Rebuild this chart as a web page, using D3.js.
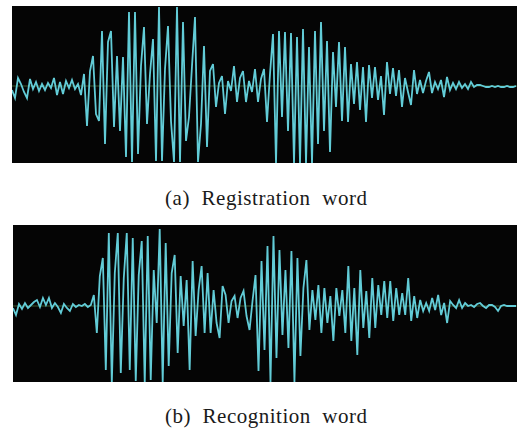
<!DOCTYPE html>
<html>
<head>
<meta charset="utf-8">
<script src="https://cdn.jsdelivr.net/npm/d3@7"></script>
<style>
  html, body { margin: 0; padding: 0; background: #fff; }
  svg { display: block; }
</style>
</head>
<body>
<svg id="chart" width="517" height="429"></svg>
<script>
// Amplitude samples (pixels of deflection, + = up)
const registrationWave = [
  -4, -12, 8, 2, -6, -12, 7, -3, 4, -5, 2, -4, 3, -2, 8, -9, 4, -8, 5, -2,
  6, -3, 2, -9, 12, -40, 15, 30, -28, -35, 55, -58, 44, 55, -41, 30, -45, 29, -71, 74,
  -76, 74, -68, 20, 59, -38, 12, 47, -75, 79, -75, 17, 60, -35, -76, 79, -76, 64, -55, -31,
  20, 69, -76, -38, 40, -61, 15, 22, -21, 3, 10, -28, 5, -5, 20, -16, 8, 15, -16, 5,
  -6, 17, -16, 7, 17, -36, 12, 52, -77, 55, -31, 54, -45, 53, -77, 49, -77, 57, -77, 39,
  -77, 55, -58, 64, -45, 45, -66, 34, -21, 44, -35, 39, -36, 22, -18, 24, -24, 19, -36, 21,
  -12, 19, -14, 10, -29, 24, -8, 18, -10, 16, -21, 8, -6, -19, 16, -8, 6, -7, 5, 14,
  -7, 4, -3, 6, -11, 9, -4, 3, -3, 4, -2, 2, -3, 4, -1, 1, 1, 0, -1, -1,
  0, -1, 0, -1, -1, 0, -1, -1, 0
];

const recognitionWave = [
  -2, -9, 2, -3, 3, -2, 1, 4, 6, -1, 8, 1, 8, -2, 3, -1, -7, 2, -2, -5,
  2, -1, 1, 0, 2, -1, 1, 11, -27, 30, 48, -64, 73, -77, 33, 73, -67, 28, 73, -64,
  68, -75, 31, 65, -77, 70, -74, 36, -17, 77, -77, 63, -60, 33, 51, -47, 30, -20, 26, -64,
  45, -30, 16, 40, -27, 33, -27, 16, -17, -32, 20, 11, -17, 5, 10, -12, 8, 15, -10, -24,
  5, 31, -65, 45, -44, 60, -76, 70, -52, 56, -29, 36, -42, 55, -76, 48, -50, 18, 46, -24,
  16, -14, 21, -27, 18, -17, 10, -35, 18, -10, 16, -27, 40, -35, 18, -49, 36, -22, 15, -32,
  28, -22, 21, -9, 25, -12, 25, -15, 18, -9, 13, -9, 28, -15, 10, -12, 6, -5, 3, -5,
  8, -4, 11, -9, 3, -17, 5, 1, -2, 6, -2, 3, 0, 1, -1, 2, 3, 0, -2, 1,
  1, -1, -5, 0, 1, 0, 0, 0, 0
];

const captions = ['(a)  Registration  word', '(b)  Recognition  word'];

const panels = [
  { data: registrationWave, caption: captions[0], x0: 12, x1: 517, top: 6, bottom: 163, lo: -77, hi: 80, textY: 205 },
  { data: recognitionWave, caption: captions[1], x0: 13, x1: 517, top: 225, bottom: 382, lo: -76, hi: 81, textY: 423 }
];

const svg = d3.select('#chart');

panels.forEach((p, k) => {
  const x = d3.scaleLinear().domain([0, p.data.length - 1]).range([p.x0, p.x1 - 1]);
  const y = d3.scaleLinear().domain([p.lo, p.hi]).range([p.bottom, p.top]);

  svg.append('clipPath').attr('id', 'clip' + k)
    .append('rect')
    .attr('x', p.x0).attr('y', p.top)
    .attr('width', p.x1 - p.x0).attr('height', p.bottom - p.top);

  svg.append('rect')
    .attr('x', p.x0).attr('y', p.top)
    .attr('width', p.x1 - p.x0).attr('height', p.bottom - p.top)
    .attr('fill', '#050505');

  // faint zero line
  svg.append('line')
    .attr('x1', p.x0).attr('x2', p.x1)
    .attr('y1', y(0)).attr('y2', y(0))
    .attr('stroke', '#3d5a30')
    .attr('stroke-width', 1);

  const line = d3.line()
    .x((d, i) => x(i))
    .y(d => y(d));

  svg.append('path')
    .datum(p.data)
    .attr('clip-path', `url(#clip${k})`)
    .attr('d', line)
    .attr('fill', 'none')
    .attr('stroke', '#62ccd7')
    .attr('stroke-width', 1.8)
    .attr('stroke-linejoin', 'miter');

  svg.append('text')
    .attr('x', 266)
    .attr('y', p.textY)
    .attr('text-anchor', 'middle')
    .attr('font-family', '"Liberation Serif", "DejaVu Serif", serif')
    .attr('font-size', 21)
    .attr('fill', '#1a1a1a')
    .attr('textLength', 202)
    .attr('lengthAdjust', 'spacing')
    .style('white-space', 'pre')
    .text(p.caption);
});
</script>
</body>
</html>
